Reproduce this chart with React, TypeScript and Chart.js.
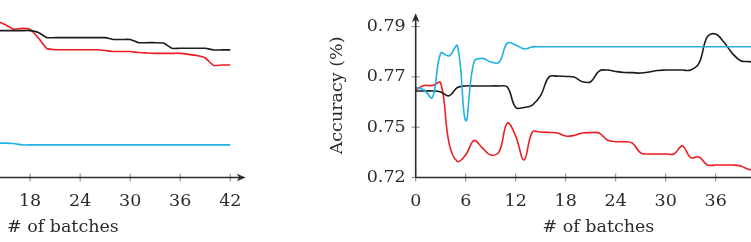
import React, { useEffect, useRef } from "react";
import { Chart, registerables } from "chart.js";

Chart.register(...registerables);

// ---- data -------------------------------------------------------------
// Left panel (only batches 14..42 fall inside the frame)
const leftBatches = [14, 15, 16, 17, 18, 19, 20, 21, 22, 23, 24, 25, 26, 27, 28, 29, 30, 31, 32, 33, 34, 35, 36, 37, 38, 39, 40, 41, 42];
const leftBlack = [0.793, 0.793, 0.793, 0.793, 0.793, 0.7921, 0.7895, 0.7895, 0.7895, 0.7895, 0.7895, 0.7895, 0.7895, 0.7895, 0.7886, 0.7886, 0.7886, 0.787, 0.787, 0.787, 0.7868, 0.7842, 0.7842, 0.7842, 0.7842, 0.7842, 0.7834, 0.7834, 0.7834];
const leftRed = [0.7978, 0.796, 0.7937, 0.7941, 0.7936, 0.7893, 0.7841, 0.7835, 0.7835, 0.7835, 0.7835, 0.7835, 0.7835, 0.7831, 0.7826, 0.7826, 0.7826, 0.7821, 0.7819, 0.7817, 0.7817, 0.7817, 0.7817, 0.7812, 0.7806, 0.7794, 0.7757, 0.7759, 0.7759];
const leftCyan = [0.7371, 0.7371, 0.7369, 0.7362, 0.7362, 0.7362, 0.7362, 0.7362, 0.7362, 0.7362, 0.7362, 0.7362, 0.7362, 0.7362, 0.7362, 0.7362, 0.7362, 0.7362, 0.7362, 0.7362, 0.7362, 0.7362, 0.7362, 0.7362, 0.7362, 0.7362, 0.7362, 0.7362, 0.7362];

// Right panel
const rightBatches = [0, 1, 2, 3, 4, 5, 6, 7, 8, 9, 10, 11, 12, 13, 14, 15, 16, 17, 18, 19, 20, 21, 22, 23, 24, 25, 26, 27, 28, 29, 30, 31, 32, 33, 34, 35, 36, 37, 38, 39, 40, 41, 42];
const rightCyan = [0.7647, 0.7635, 0.7597, 0.7817, 0.7804, 0.7854, 0.7482, 0.7776, 0.7792, 0.7774, 0.7772, 0.7868, 0.7859, 0.7839, 0.7849, 0.785, 0.785, 0.785, 0.785, 0.785, 0.785, 0.785, 0.785, 0.785, 0.785, 0.785, 0.785, 0.785, 0.785, 0.785, 0.785, 0.785, 0.785, 0.785, 0.785, 0.785, 0.785, 0.785, 0.785, 0.785, 0.785, 0.785, 0.785];
const rightBlack = [0.763, 0.763, 0.763, 0.7625, 0.7606, 0.7647, 0.7655, 0.7655, 0.7655, 0.7655, 0.7655, 0.765, 0.7548, 0.7548, 0.756, 0.7608, 0.77, 0.7704, 0.7702, 0.7699, 0.7676, 0.7676, 0.7729, 0.7734, 0.7727, 0.7722, 0.7721, 0.7719, 0.7724, 0.7732, 0.7734, 0.7734, 0.7734, 0.7734, 0.7768, 0.79, 0.7913, 0.7872, 0.7817, 0.778, 0.7776, 0.777, 0.7765];
const rightRed = [0.7635, 0.7657, 0.7657, 0.767, 0.7371, 0.728, 0.7312, 0.7384, 0.7347, 0.7312, 0.7327, 0.7471, 0.7406, 0.7287, 0.7426, 0.7426, 0.7424, 0.7421, 0.7406, 0.7409, 0.7421, 0.7423, 0.7421, 0.7386, 0.7378, 0.7378, 0.7371, 0.7322, 0.7317, 0.7317, 0.7317, 0.7317, 0.7357, 0.7299, 0.7302, 0.7262, 0.7262, 0.7262, 0.7262, 0.7257, 0.724, 0.7237, 0.7237];

// Axes
const xTicks = [0, 6, 12, 18, 24, 30, 36, 42];
const yTickValues = [0.72, 0.745, 0.77, 0.795];
const yTickLabels = ["0.72", "0.75", "0.77", "0.79"];

// ---- styling ----------------------------------------------------------
const FONT = { family: "'DejaVu Serif', serif", size: 17.5 };
const INK = "#2b2b2b";
const BLACK = "#1c1c1c";
const RED = "#ee1d23";
const CYAN = "#22b0e6";

// Axis lines that cross their tick marks and end in arrow heads.
const arrowAxes = {
  id: "arrowAxes",
  afterDatasetsDraw(chart: any) {
    const { ctx, chartArea } = chart;
    const { left, right, top, bottom } = chartArea;
    const xs = chart.scales.x;
    const ys = chart.scales.y;
    const seg = (x1: number, y1: number, x2: number, y2: number) => {
      ctx.beginPath();
      ctx.moveTo(x1, y1);
      ctx.lineTo(x2, y2);
      ctx.stroke();
    };
    const head = (x: number, y: number, angle: number) => {
      ctx.save();
      ctx.translate(x, y);
      ctx.rotate(angle);
      ctx.beginPath();
      ctx.moveTo(0, 0);
      ctx.lineTo(-9, -3.8);
      ctx.lineTo(-6.5, 0);
      ctx.lineTo(-9, 3.8);
      ctx.closePath();
      ctx.fill();
      ctx.restore();
    };
    ctx.save();
    ctx.strokeStyle = "#777";
    ctx.lineWidth = 0.9;
    xTicks.forEach((v) => {
      const px = xs.getPixelForValue(v);
      seg(px, bottom - 4, px, bottom + 4);
    });
    yTickValues.forEach((v) => {
      const py = ys.getPixelForValue(v);
      seg(left - 4, py, left + 4, py);
    });
    ctx.strokeStyle = INK;
    ctx.fillStyle = INK;
    ctx.lineWidth = 1.6;
    seg(left, bottom, right - 5, bottom);
    seg(left, bottom, left, top + 5);
    head(right, bottom, 0);
    head(left, top, -Math.PI / 2);
    ctx.restore();
  },
};

type PanelProps = {
  left: number;
  width: number;
  yAxisWidth: number;
  padRight: number;
  tension: number;
  batches: number[];
  black: number[];
  red: number[];
  cyan: number[];
};

function Panel(props: PanelProps) {
  const ref = useRef<HTMLCanvasElement>(null);
  const height = 242;

  useEffect(() => {
    const { batches, black, red, cyan, tension, yAxisWidth, padRight } = props;
    const series = (vals: number[], color: string) => ({
      data: batches.map((b, i) => ({ x: b, y: vals[i] })),
      borderColor: color,
      backgroundColor: color,
      borderWidth: 1.6,
      pointRadius: 0,
      tension,
      fill: false,
    });
    const chart = new Chart(ref.current as HTMLCanvasElement, {
      type: "line",
      data: {
        datasets: [series(cyan, CYAN), series(black, BLACK), series(red, RED)],
      },
      options: {
        responsive: false,
        animation: false,
        devicePixelRatio: 1,
        layout: { padding: { left: 0, right: padRight, top: 13.3, bottom: 0 } },
        plugins: { legend: { display: false }, tooltip: { enabled: false } },
        scales: {
          x: {
            type: "linear",
            min: 0,
            max: 43.85,
            grid: { display: false, drawTicks: false },
            border: { display: false },
            afterBuildTicks: (s: any) => {
              s.ticks = xTicks.map((v) => ({ value: v }));
            },
            afterFit: (s: any) => {
              s.height = 64.5;
              s.paddingLeft = 0;
              s.paddingRight = 0;
            },
            ticks: {
              font: FONT,
              color: INK,
              padding: 13,
              maxRotation: 0,
              autoSkip: false,
              callback: (v: any) => String(v),
            },
            title: {
              display: true,
              text: "# of batches",
              font: FONT,
              color: INK,
              padding: { top: 0, bottom: 4 },
            },
          },
          y: {
            type: "linear",
            min: 0.72,
            max: 0.8016,
            grid: { display: false, drawTicks: false },
            border: { display: false },
            afterBuildTicks: (s: any) => {
              s.ticks = yTickValues.map((v) => ({ value: v }));
            },
            afterFit: (s: any) => {
              s.width = yAxisWidth;
              s.paddingTop = 0;
              s.paddingBottom = 0;
            },
            ticks: {
              font: FONT,
              color: INK,
              padding: 10,
              callback: (_v: any, i: number) => yTickLabels[i],
            },
            title: {
              display: true,
              text: "Accuracy (%)",
              font: FONT,
              color: INK,
              padding: { top: 27, bottom: 0 },
            },
          },
        },
      } as any,
      plugins: [arrowAxes],
    });
    return () => chart.destroy();
  }, []);

  return (
    <canvas
      ref={ref}
      width={props.width}
      height={height}
      style={{ position: "absolute", left: props.left, top: 0, width: props.width, height }}
    />
  );
}

export default function App() {
  return (
    <div
      style={{
        position: "fixed",
        left: 0,
        top: 0,
        width: 751,
        height: 242,
        overflow: "hidden",
        background: "#ffffff",
      }}
    >
      <Panel
        left={-250}
        width={520}
        yAxisWidth={130}
        padRight={24.3}
        tension={0.15}
        batches={leftBatches}
        black={leftBlack}
        red={leftRed}
        cyan={leftCyan}
      />
      <Panel
        left={300}
        width={500}
        yAxisWidth={115.7}
        padRight={18.9}
        tension={0.4}
        batches={rightBatches}
        black={rightBlack}
        red={rightRed}
        cyan={rightCyan}
      />
    </div>
  );
}
